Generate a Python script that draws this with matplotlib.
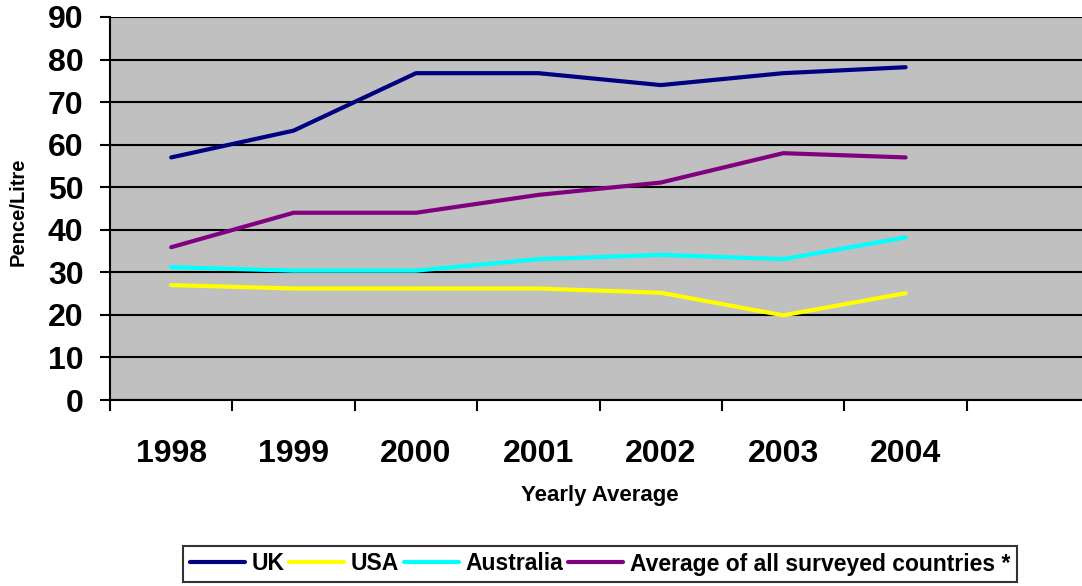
import numpy as np
import matplotlib.pyplot as plt
from matplotlib.ticker import FixedLocator

plt.rcParams['font.family'] = ['Liberation Sans', 'DejaVu Sans']
plt.rcParams['font.weight'] = 'bold'

years = ['1998', '1999', '2000', '2001', '2002', '2003', '2004']
uk = [57, 63.3, 76.8, 76.8, 74, 76.8, 78.2]
usa = [27, 26.2, 26.2, 26.2, 25.2, 19.9, 25.1]
australia = [31.2, 30.4, 30.4, 33.1, 34.1, 33.1, 38.2]
average = [35.9, 44, 44, 48.2, 51.1, 58, 57]

W, H = 1082, 586
fig = plt.figure(figsize=(W / 100, H / 100), dpi=100)
ax = fig.add_axes([110 / W, (H - 400) / H, (W - 110) / W, 383 / H])
ax.set_facecolor('#C0C0C0')

x = np.arange(len(years)) + 0.5
ax.plot(x, uk, color='#000080', lw=3, label='UK', solid_capstyle='round')
ax.plot(x, usa, color='#FFFF00', lw=3, label='USA', solid_capstyle='round')
ax.plot(x, australia, color='#00FFFF', lw=3, label='Australia', solid_capstyle='round')
ax.plot(x, average, color='#800080', lw=3, label='Average of all surveyed countries *',
        solid_capstyle='round')

slot = 122.4
ax.set_xlim(0, (W - 110) / slot)
ax.set_ylim(0, 90)
ax.set_yticks(range(0, 91, 10))
ax.yaxis.grid(True, color='black', lw=1.5)
ax.set_axisbelow(True)

ax.xaxis.set_major_locator(FixedLocator(range(0, 8)))
ax.xaxis.set_minor_locator(FixedLocator(x))
ax.set_xticklabels([], minor=False)
ax.set_xticklabels(years, minor=True, fontsize=23, fontweight='bold')
ax.tick_params(axis='x', which='major', direction='out', length=8, width=1.5, color='black')
ax.tick_params(axis='x', which='minor', length=0, pad=28)
ax.tick_params(axis='y', direction='out', length=7, width=1.5, labelsize=23, pad=12)
for lab in ax.get_yticklabels():
    lab.set_fontweight('bold')

for s in ['top', 'right']:
    ax.spines[s].set_visible(False)
for s in ['left', 'bottom']:
    ax.spines[s].set_linewidth(1.5)
    ax.spines[s].set_color('black')

fig.text(18 / W, 1 - 212 / H, 'Pence/Litre', fontsize=14.5, fontweight='bold',
         rotation=90, ha='center', va='center')
fig.text(600 / W, 1 - 496 / H, 'Yearly Average', fontsize=16, fontweight='bold',
         ha='center', va='center')

leg = fig.legend(loc='center', bbox_to_anchor=(600 / W, 1 - 564 / H), ncol=4,
                 fontsize=16.5, frameon=True, fancybox=False, edgecolor='black',
                 handlelength=2.4, handletextpad=0.3, columnspacing=0.2,
                 borderpad=0.3, borderaxespad=0)
leg.get_frame().set_linewidth(1.5)
for t in leg.get_texts():
    t.set_fontweight('bold')

fig.savefig('out.png', dpi=100)
